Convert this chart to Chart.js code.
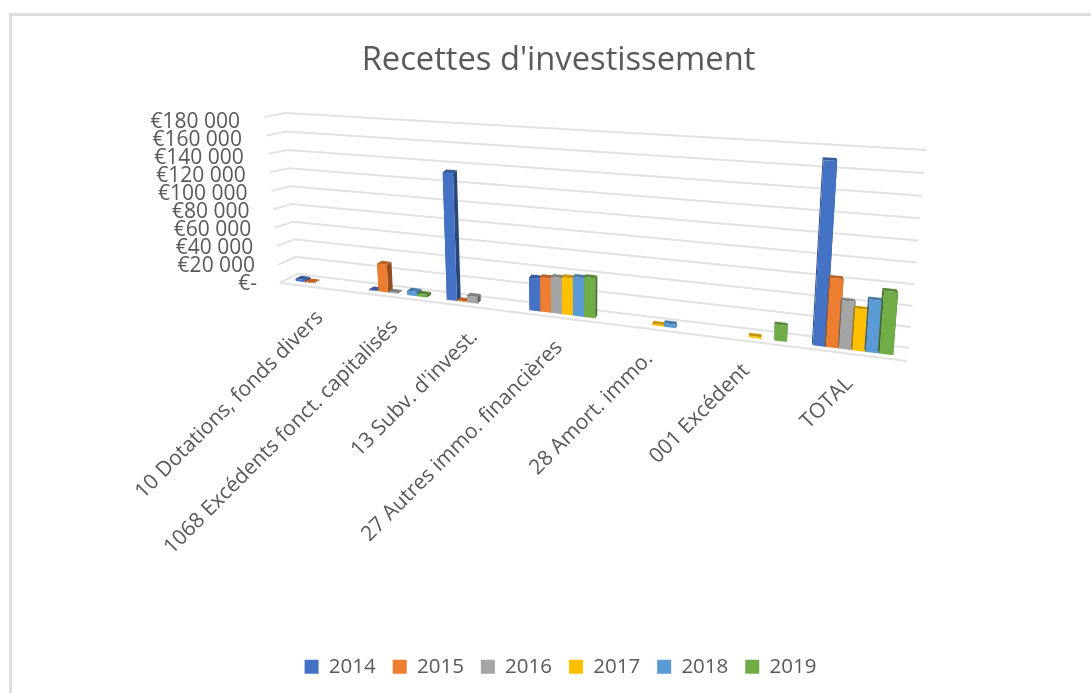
<!DOCTYPE html>
<html>
<head>
<meta charset="utf-8">
<title>Recettes d'investissement</title>
<script src="https://cdn.jsdelivr.net/npm/chart.js@4"></script>
<style>
  html, body { margin: 0; padding: 0; background: #fff; overflow: hidden; }
  #wrap { position: relative; width: 1091px; height: 693px; }
  #frame { position: absolute; left: 9px; top: 13px; right: 0; bottom: 0; border-left: 3px solid #dedede; border-top: 3px solid #dedede; }
  #chart { position: absolute; left: 0; top: 0; }
</style>
</head>
<body>
<div id="wrap">
  <div id="frame"></div>
  <canvas id="chart" width="1091" height="693"></canvas>
</div>
<script>
const categories = ["10 Dotations, fonds divers", "1068 Excédents fonct. capitalisés", "13 Subv. d'invest.", "27 Autres immo. financières", "28 Amort. immo.", "001 Excédent", "TOTAL"];
const years = ["2014", "2015", "2016", "2017", "2018", "2019"];
const colors = ["#4472c4", "#ed7d31", "#a5a5a5", "#ffc000", "#5b9bd5", "#70ad47"];

const values2014 = [2500, 800, 130000, 33000, null, null, 165000];
const values2015 = [800, 29500, 1000, 34500, null, null, 63000];
const values2016 = [null, 800, 7000, 36000, null, null, 44000];
const values2017 = [null, null, null, 37000, 1500, 1500, 38000];
const values2018 = [null, 4500, null, 38500, 3500, null, 47500];
const values2019 = [null, 2500, null, 39500, null, 15000, 56500];
const allValues = [values2014, values2015, values2016, values2017, values2018, values2019];

const yTickLabels = ["€-", "€20 000", "€40 000", "€60 000", "€80 000", "€100 000", "€120 000", "€140 000", "€160 000", "€180 000"];

const textColor = "#595959";
const fontName = "'Open Sans'";
const gridColor = "#e2e2e2";

// the reference is a 3D column chart, so scale pixels get projected onto tilted planes
// corners are bottom-left, bottom-right, top-right, top-left
const barPlane = [[287, 280], [907, 357], [924, 148], [275, 112]];
const barPlaneBack = [[293, 277], [905, 354], [922, 145], [281, 109]];
const backWall = [[297, 274], [909, 348], [926, 150], [285, 113]];

function makeProjection(q) {
    var dx1 = q[1][0] - q[2][0], dx2 = q[3][0] - q[2][0], sx = q[0][0] - q[1][0] + q[2][0] - q[3][0];
    var dy1 = q[1][1] - q[2][1], dy2 = q[3][1] - q[2][1], sy = q[0][1] - q[1][1] + q[2][1] - q[3][1];
    var den = dx1 * dy2 - dx2 * dy1;
    var g = (sx * dy2 - dx2 * sy) / den;
    var h = (dx1 * sy - sx * dy1) / den;
    var a = q[1][0] - q[0][0] + g * q[1][0], b = q[3][0] - q[0][0] + h * q[3][0];
    var d = q[1][1] - q[0][1] + g * q[1][1], e = q[3][1] - q[0][1] + h * q[3][1];
    return function (u, v) {
        var w = g * u + h * v + 1;
        return [(a * u + b * v + q[0][0]) / w, (d * u + e * v + q[0][1]) / w];
    };
}
const toFront = makeProjection(barPlane);
const toBack = makeProjection(barPlaneBack);
const toWall = makeProjection(backWall);

function fillFace(ctx, pts, color) {
    ctx.beginPath();
    ctx.moveTo(pts[0][0], pts[0][1]);
    for (var i = 1; i < pts.length; i++) ctx.lineTo(pts[i][0], pts[i][1]);
    ctx.closePath();
    ctx.fillStyle = color;
    ctx.fill();
}

function darken(hex, f) {
    var n = parseInt(hex.slice(1), 16);
    return "rgb(" + Math.round((n >> 16) * f) + "," + Math.round(((n >> 8) & 255) * f) + "," + Math.round((n & 255) * f) + ")";
}

const perspective = {
    id: "perspective",
    afterLayout(chart) {
        // legend sits a little off the title's centre in the reference
        chart.legend.left += 2;
        chart.legend.right += 2;
    },
    beforeDatasetsDraw(chart) {
        var ctx = chart.ctx, area = chart.chartArea, yScale = chart.scales.y;
        var toU = (px) => (px - area.left) / area.width;
        var toV = (py) => (area.bottom - py) / area.height;

        // walls and floor
        ctx.save();
        ctx.strokeStyle = gridColor;
        ctx.lineWidth = 2;
        yScale.ticks.forEach((tick) => {
            var v = toV(yScale.getPixelForValue(tick.value));
            var a = toWall(0, v), b = toWall(1, v);
            ctx.beginPath();
            ctx.moveTo(265 + (280 - 265) * (1 - v), 117 + (283 - 117) * (1 - v));
            ctx.lineTo(a[0], a[1]);
            ctx.lineTo(b[0], b[1]);
            ctx.stroke();
        });
        ctx.beginPath();
        ctx.moveTo(280, 283);
        ctx.lineTo(907, 361);
        ctx.stroke();

        // columns, first series at the back of the paint order
        for (var c = 0; c < categories.length; c++) {
            chart.data.datasets.forEach((ds, i) => {
                var bar = chart.getDatasetMeta(i).data[c];
                if (ds.data[c] == null) return;
                var u0 = toU(bar.x - bar.width / 2), u1 = toU(bar.x + bar.width / 2);
                var v0 = toV(bar.base), v1 = toV(bar.y);
                var f00 = toFront(u0, v0), f10 = toFront(u1, v0), f11 = toFront(u1, v1), f01 = toFront(u0, v1);
                var b00 = toBack(u0, v0), b10 = toBack(u1, v0), b11 = toBack(u1, v1), b01 = toBack(u0, v1);
                fillFace(ctx, [f10, b10, b11, f11], darken(colors[i], 0.62));
                fillFace(ctx, [f00, b00, b01, f01], darken(colors[i], 0.62));
                fillFace(ctx, [f01, f11, b11, b01], darken(colors[i], 0.78));
                fillFace(ctx, [f00, f10, f11, f01], colors[i]);
            });
        }
        ctx.restore();
    },
    beforeDatasetDraw() {
        return false; // columns are already painted above
    },
    afterDraw(chart) {
        var ctx = chart.ctx, area = chart.chartArea, yScale = chart.scales.y, xScale = chart.scales.x;
        ctx.save();
        ctx.fillStyle = textColor;

        // value labels follow the slant of the left wall
        ctx.font = "21px " + fontName;
        ctx.textAlign = "right";
        ctx.textBaseline = "middle";
        yScale.ticks.forEach((tick) => {
            var v = (area.bottom - yScale.getPixelForValue(tick.value)) / area.height;
            ctx.fillText(tick.label, 240 + 17 * (1 - v), 122.5 + 161.5 * (1 - v));
        });

        // category labels, rotated, ending just under their group
        ctx.font = "21px " + fontName;
        categories.forEach((name, c) => {
            var p = toFront((xScale.getPixelForValue(c) - area.left) / area.width, 0);
            ctx.save();
            ctx.translate(p[0] - 3, p[1] + 30);
            ctx.rotate(-Math.PI / 4);
            ctx.fillText(name, 0, 0);
            ctx.restore();
        });
        ctx.restore();
    }
};

new Chart(document.getElementById("chart"), {
    type: "bar",
    data: {
        labels: categories,
        datasets: years.map((year, i) => ({
            label: year,
            data: allValues[i],
            backgroundColor: colors[i],
            categoryPercentage: 0.75,
            barPercentage: 1
        }))
    },
    options: {
        responsive: false,
        animation: false,
        layout: { padding: { left: 26, top: 41, bottom: 6 } },
        scales: {
            x: { display: false },
            y: {
                display: false,
                min: 0,
                max: 180000,
                ticks: { stepSize: 20000, callback: (value) => yTickLabels[value / 20000] }
            }
        },
        plugins: {
            title: {
                display: true,
                text: "Recettes d'investissement",
                color: textColor,
                font: { family: fontName, size: 32.7, weight: "normal" },
                padding: { top: 0, bottom: 10 }
            },
            legend: {
                position: "bottom",
                labels: {
                    color: textColor,
                    font: { family: fontName, size: 20.5 },
                    boxWidth: 14,
                    boxHeight: 14,
                    padding: 17
                }
            },
            tooltip: { enabled: false }
        }
    },
    plugins: [perspective]
});
</script>
</body>
</html>
